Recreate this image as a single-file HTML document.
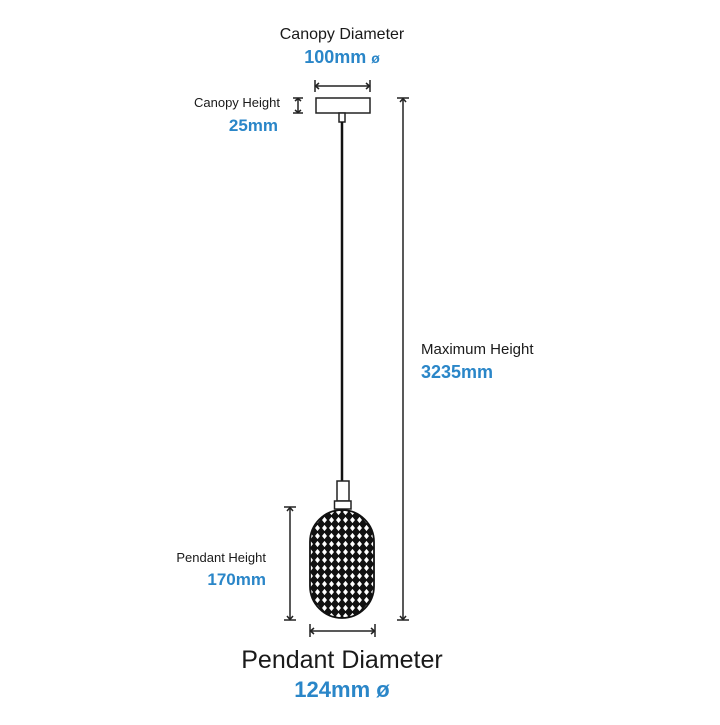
<!DOCTYPE html>
<html><head><style>
body{margin:0;background:#fff;width:720px;height:720px;overflow:hidden}
svg text{font-family:"Liberation Sans",sans-serif}
</style></head><body>
<svg width="720" height="720" viewBox="0 0 720 720" xmlns="http://www.w3.org/2000/svg">
<defs>
<pattern id="mesh" x="307" y="508" width="7" height="8" patternUnits="userSpaceOnUse">
<rect width="7" height="8" fill="#111"/>
<polygon points="3.5,0.9 6.0,4 3.5,7.1 1.0,4" fill="#fff"/>
</pattern>
<clipPath id="cap"><rect x="310" y="510" width="64" height="108" rx="32" ry="32"/></clipPath>
</defs>
<g stroke="#222" fill="none" stroke-width="1.5">
<rect x="316" y="98" width="54" height="15" fill="#fff"/>
<rect x="339" y="113" width="6" height="9" fill="#fff"/>
<line x1="342" y1="122" x2="342" y2="482" stroke-width="2.5" stroke="#111"/>
<rect x="337" y="481" width="12" height="20" fill="#fff"/>
<rect x="334.5" y="501" width="16.5" height="8" fill="#fff"/>
<line x1="315" y1="80" x2="315" y2="92"/><line x1="370" y1="80" x2="370" y2="92"/>
<line x1="315" y1="86" x2="370" y2="86"/>
<polyline points="319,83 315.5,86 319,89"/><polyline points="366,83 369.5,86 366,89"/>
<line x1="293" y1="98" x2="303" y2="98"/><line x1="293" y1="113" x2="303" y2="113"/>
<line x1="298" y1="98" x2="298" y2="113"/>
<polyline points="295,101 298,98.5 301,101"/><polyline points="295,110 298,112.5 301,110"/>
<line x1="397" y1="98" x2="409" y2="98"/><line x1="397" y1="620" x2="409" y2="620"/>
<line x1="403" y1="98" x2="403" y2="620"/>
<polyline points="400,102 403,98.5 406,102"/><polyline points="400,616 403,619.5 406,616"/>
<line x1="284" y1="507" x2="296" y2="507"/><line x1="284" y1="620" x2="296" y2="620"/>
<line x1="290" y1="507" x2="290" y2="620"/>
<polyline points="287,511 290,507.5 293,511"/><polyline points="287,616 290,619.5 293,616"/>
<line x1="310" y1="624" x2="310" y2="637"/><line x1="375" y1="624" x2="375" y2="637"/>
<line x1="310" y1="631" x2="375" y2="631"/>
<polyline points="314,628 310.5,631 314,634"/><polyline points="371,628 374.5,631 371,634"/>
</g>
<rect x="310" y="510" width="64" height="108" fill="url(#mesh)" clip-path="url(#cap)"/>
<rect x="310" y="510" width="64" height="108" rx="32" ry="32" fill="none" stroke="#111" stroke-width="1.8"/>
<g fill="#1a1a1a">
<text x="342" y="39" font-size="16" text-anchor="middle">Canopy Diameter</text>
<text x="280" y="107" font-size="13" text-anchor="end">Canopy Height</text>
<text x="421" y="354" font-size="15">Maximum Height</text>
<text x="266" y="562" font-size="13" text-anchor="end">Pendant Height</text>
<text x="342" y="668" font-size="25" text-anchor="middle">Pendant Diameter</text>
</g>
<g fill="#2a86c8" font-weight="bold">
<text x="342" y="63" font-size="18" text-anchor="middle">100mm <tspan font-size="14">ø</tspan></text>
<text x="278" y="131" font-size="17" text-anchor="end">25mm</text>
<text x="421" y="378" font-size="18">3235mm</text>
<text x="266" y="585" font-size="17" text-anchor="end">170mm</text>
<text x="342" y="697" font-size="22" text-anchor="middle">124mm ø</text>
</g>
</svg>
</body></html>
